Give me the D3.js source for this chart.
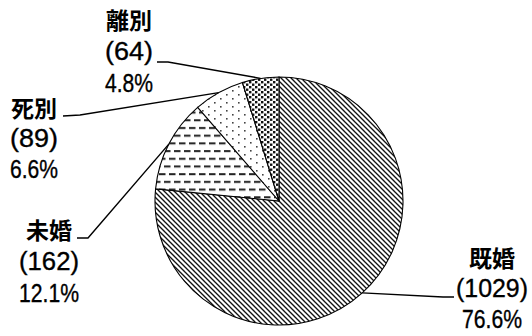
<!DOCTYPE html>
<html><head><meta charset="utf-8">
<script src="https://cdn.jsdelivr.net/npm/d3@7"></script>
<style>html,body{margin:0;padding:0;background:#fff;}svg{display:block;}</style>
</head><body>
<svg id="chart" width="532" height="336"></svg>
<script>
// Data
const categories = ["既婚", "未婚", "死別", "離別"];
const counts = [1029, 162, 89, 64];
const percentLabels = ["76.6%", "12.1%", "6.6%", "4.8%"];
const patternIds = ["hatch", "dash", "sparse", "dense"];

// Layout (positions of label blocks and leader elbows)
const layout = [
  {cx: 492, y0: 258, gap: 30.5, cw: 12.0, elbow: [443, 297], end: [454, 297]},
  {cx: 49,  y0: 230, gap: 31.5, cw: 12.0, elbow: [88, 238],  end: [77, 238]},
  {cx: 34,  y0: 108, gap: 30.5, cw: 12.0, elbow: [80, 115],  end: [63, 116]},
  {cx: 129, y0: 20,  gap: 31.5, cw: 12.0, elbow: [168, 62],  end: [157, 62]}
];

const svg = d3.select("#chart");
const defs = svg.append("defs");

// Patterns
const p1 = defs.append("pattern").attr("id","hatch").attr("patternUnits","userSpaceOnUse").attr("width",5).attr("height",5);
p1.append("rect").attr("width",5).attr("height",5).attr("fill","#fff");
p1.append("path").attr("d","M-1,-1L6,6M4,-1L6,1M-1,4L1,6").attr("stroke","#111").attr("stroke-width",1.35);

const p2 = defs.append("pattern").attr("id","dash").attr("patternUnits","userSpaceOnUse").attr("width",10).attr("height",15.4);
p2.append("rect").attr("width",10).attr("height",15.4).attr("fill","#fff");
p2.append("rect").attr("x",0).attr("y",3).attr("width",6.5).attr("height",2).attr("fill","#222");
p2.append("rect").attr("x",5).attr("y",10.7).attr("width",6.5).attr("height",2).attr("fill","#222");
p2.append("rect").attr("x",-5).attr("y",10.7).attr("width",6.5).attr("height",2).attr("fill","#222");

const p3 = defs.append("pattern").attr("id","sparse").attr("patternUnits","userSpaceOnUse").attr("width",12).attr("height",8);
p3.append("rect").attr("width",12).attr("height",8).attr("fill","#fff");
p3.append("rect").attr("x",1).attr("y",1).attr("width",1.6).attr("height",1.6).attr("fill","#444");
p3.append("rect").attr("x",7).attr("y",5).attr("width",1.6).attr("height",1.6).attr("fill","#444");

const p4 = defs.append("pattern").attr("id","dense").attr("patternUnits","userSpaceOnUse").attr("width",6).attr("height",5);
p4.append("rect").attr("width",6).attr("height",5).attr("fill","#fff");
p4.append("rect").attr("x",0).attr("y",0).attr("width",2.4).attr("height",2.4).attr("fill","#111");
p4.append("rect").attr("x",3).attr("y",2.5).attr("width",2.4).attr("height",2.4).attr("fill","#111");

// Pie
const cx = 279, cy = 201, r = 124;
const data = categories.map((c,i)=>({cat:c, value:counts[i], pct:percentLabels[i], pat:patternIds[i], idx:i}));
const pie = d3.pie().value(d=>d.value).sort(null);
const arcs = pie(data);
const arc = d3.arc().innerRadius(0).outerRadius(r);

const g = svg.append("g").attr("transform",`translate(${cx},${cy})`);
g.selectAll("path.slice").data(arcs).enter().append("path")
  .attr("class","slice")
  .attr("d",arc)
  .attr("fill",d=>`url(#${d.data.pat})`)
  .attr("stroke","#000").attr("stroke-width",1.1);

// Leaders
arcs.forEach((a,i)=>{
  const m = (a.startAngle+a.endAngle)/2;
  const sx = cx + r*Math.sin(m), sy = cy - r*Math.cos(m);
  const L = layout[i];
  svg.append("path")
    .attr("d", d3.line()([[sx,sy], L.elbow, L.end]))
    .attr("fill","none").attr("stroke","#000").attr("stroke-width",1.4);
});

// Labels (y = visual centre of each line; baseline offset applied per font)
arcs.forEach((a,i)=>{
  const L = layout[i];
  const lines = [a.data.cat, `(${a.data.value})`, a.data.pct];
  lines.forEach((t,j)=>{
    const yc = L.y0 + j*L.gap;
    const txt = svg.append("text")
      .attr("x", L.cx)
      .attr("text-anchor","middle")
      .attr("fill","#000")
      .text(t);
    if (j===0) {
      txt.attr("y", yc + 23*0.38)
        .attr("font-family","'Noto Sans CJK JP', sans-serif").attr("font-weight","bold").attr("font-size",23);
    } else {
      txt.attr("y", yc + 25.5*0.35)
        .attr("font-family","'Liberation Sans Narrow', 'Liberation Sans', sans-serif").attr("font-size",25.5)
        .attr("stroke","#000").attr("stroke-width",0.35)
        .attr("textLength", t.length*L.cw).attr("lengthAdjust","spacingAndGlyphs");
    }
  });
});
</script>
</body></html>
